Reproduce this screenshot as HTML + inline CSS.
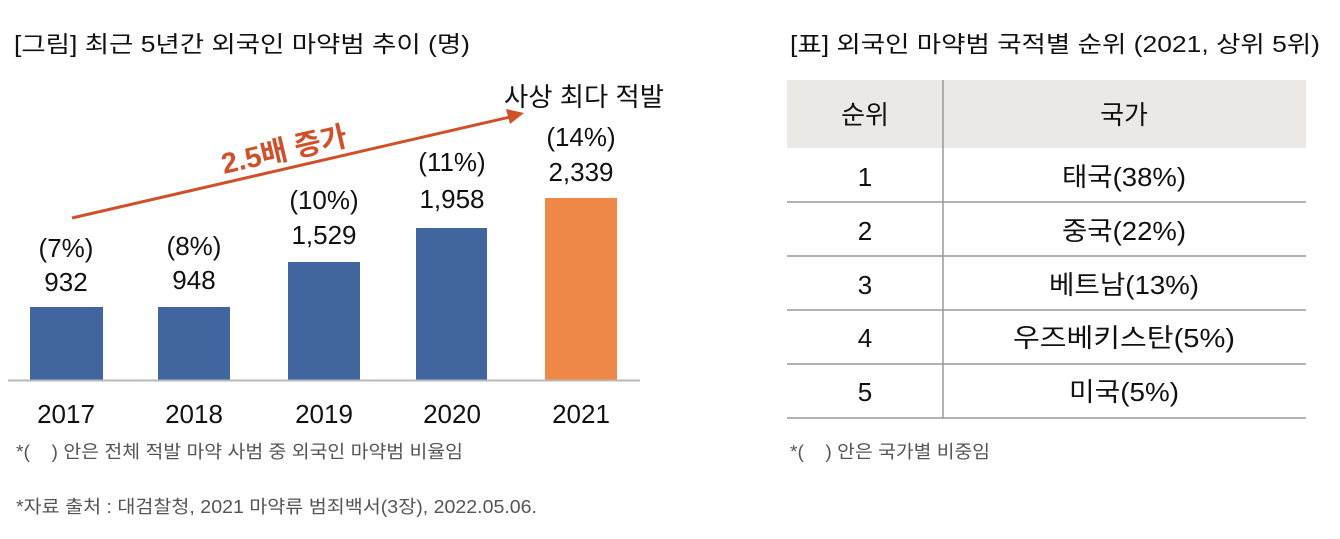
<!DOCTYPE html>
<html><head><meta charset="utf-8"><style>
body{margin:0;background:#fff;width:1340px;height:534px;overflow:hidden}
svg text{font-family:"Liberation Sans","Noto Sans CJK KR",sans-serif;fill:#111}
</style></head><body>
<svg width="1340" height="534" viewBox="0 0 1340 534" xmlns="http://www.w3.org/2000/svg">
<text x="14" y="52" font-size="23" textLength="456" lengthAdjust="spacingAndGlyphs">[그림] 최근 5년간 외국인 마약범 추이 (명)</text>
<text x="790" y="52" font-size="23" textLength="530" lengthAdjust="spacingAndGlyphs">[표] 외국인 마약범 국적별 순위 (2021, 상위 5위)</text>
<g fill="#41659e">
<rect x="30" y="307" width="73" height="73"/>
<rect x="158" y="307" width="72" height="73"/>
<rect x="288" y="262" width="72" height="118"/>
<rect x="416" y="228" width="71" height="152"/>
</g>
<rect x="545" y="198" width="72" height="182" fill="#ef8747"/>
<line x1="8" y1="380.5" x2="640" y2="380.5" stroke="#b8b8b8" stroke-width="2"/>
<g font-size="26" text-anchor="middle">
<text x="66" y="257">(7%)</text><text x="66" y="291">932</text>
<text x="194" y="255">(8%)</text><text x="194" y="289">948</text>
<text x="324" y="209">(10%)</text><text x="324" y="244">1,529</text>
<text x="452" y="171">(11%)</text><text x="452" y="208">1,958</text>
<text x="581" y="146">(14%)</text><text x="581" y="181">2,339</text>
<text x="584" y="106" textLength="160" lengthAdjust="spacingAndGlyphs">사상 최다 적발</text>
</g>
<g font-size="26" text-anchor="middle">
<text x="66" y="423">2017</text><text x="194" y="423">2018</text><text x="324" y="423">2019</text><text x="452" y="423">2020</text><text x="581" y="423">2021</text>
</g>
<line x1="72" y1="218" x2="510" y2="117" stroke="#d0502a" stroke-width="3"/>
<polygon points="524,113 506,109 510,124" fill="#d0502a"/>
<text x="0" y="0" font-size="29" font-weight="bold" transform="translate(224,174) rotate(-13)" style="fill:#d0502a" textLength="128" lengthAdjust="spacingAndGlyphs">2.5배 증가</text>
<text x="16" y="458" font-size="18" style="fill:#555" textLength="447" lengthAdjust="spacingAndGlyphs">*(&#160;&#160;&#160;&#160;) 안은 전체 적발 마약 사범 중 외국인 마약범 비율임</text>
<text x="16" y="513" font-size="18" style="fill:#555" textLength="521" lengthAdjust="spacingAndGlyphs">*자료 출처 : 대검찰청, 2021 마약류 범죄백서(3장), 2022.05.06.</text>
<rect x="787" y="80" width="519" height="68" fill="#ebe9e5"/>
<line x1="943" y1="80" x2="943" y2="418" stroke="#999" stroke-width="1.5"/>
<g stroke="#999" stroke-width="1.5">
<line x1="787" y1="202" x2="1306" y2="202"/><line x1="787" y1="256" x2="1306" y2="256"/>
<line x1="787" y1="310" x2="1306" y2="310"/><line x1="787" y1="364" x2="1306" y2="364"/>
<line x1="787" y1="418" x2="1306" y2="418"/>
</g>
<g font-size="26" text-anchor="middle">
<text x="865" y="124">순위</text><text x="1124" y="124">국가</text>
<text x="865" y="186">1</text><text x="1124" y="186" textLength="124" lengthAdjust="spacingAndGlyphs">태국(38%)</text>
<text x="865" y="240">2</text><text x="1124" y="240" textLength="124" lengthAdjust="spacingAndGlyphs">중국(22%)</text>
<text x="865" y="294">3</text><text x="1124" y="294" textLength="150" lengthAdjust="spacingAndGlyphs">베트남(13%)</text>
<text x="865" y="347">4</text><text x="1124" y="347" textLength="222" lengthAdjust="spacingAndGlyphs">우즈베키스탄(5%)</text>
<text x="865" y="401">5</text><text x="1124" y="401" textLength="110" lengthAdjust="spacingAndGlyphs">미국(5%)</text>
</g>
<text x="790" y="458" font-size="18" style="fill:#555" textLength="200" lengthAdjust="spacingAndGlyphs">*(&#160;&#160;&#160;&#160;) 안은 국가별 비중임</text>
</svg>
</body></html>
